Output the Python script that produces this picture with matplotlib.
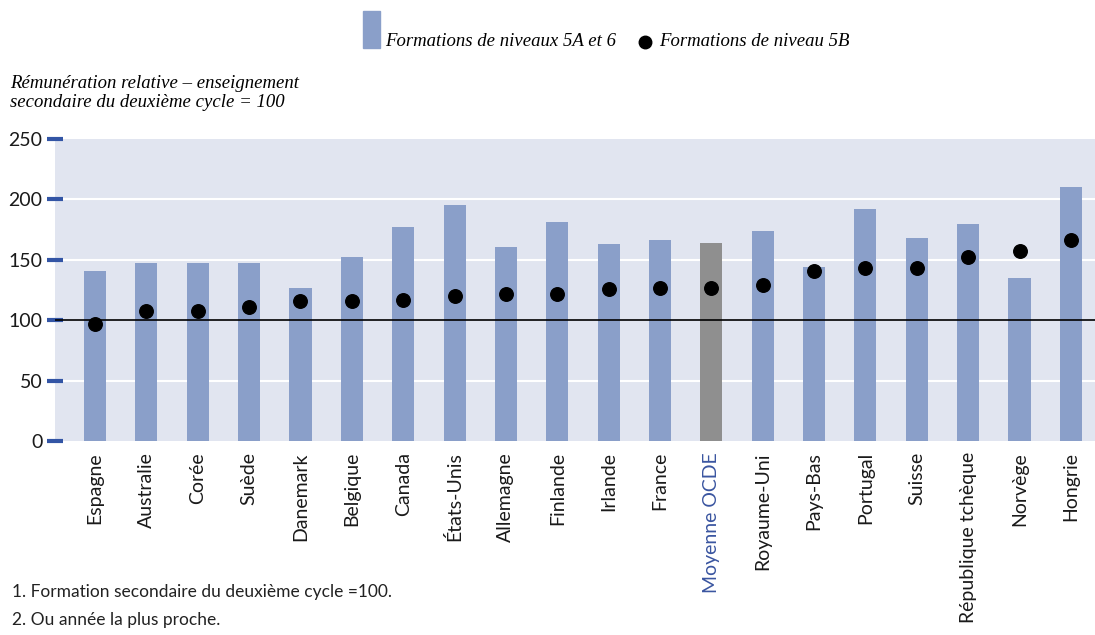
import matplotlib.pyplot as plt
import numpy as np

countries = ["Espagne", "Australie", "Corée", "Suède", "Danemark", "Belgique",
             "Canada", "États-Unis", "Allemagne", "Finlande", "Irlande", "France",
             "Moyenne OCDE", "Royaume-Uni", "Pays-Bas", "Portugal", "Suisse",
             "République tchèque", "Norvège", "Hongrie"]
niveaux_5a_6 = [141, 147, 147, 147, 127, 152, 177, 195, 161, 181, 163, 166,
                164, 174, 144, 192, 168, 180, 135, 210]
niveau_5b = [97, 108, 108, 111, 116, 116, 117, 120, 122, 122, 126, 127,
             127, 129, 141, 143, 143, 152, 157, 166]
yticks = [0, 50, 100, 150, 200, 250]

bar_color = "#8a9fc9"
oecd_color = "#8f8f8f"
bg_color = "#e1e5f0"
tick_blue = "#3355a5"
text_color = "#1a1a1a"

plt.rcParams['font.family'] = ['Lato', 'DejaVu Sans']
hand = dict(family='Liberation Serif', style='italic')

fig = plt.figure(figsize=(10.95, 6.35), dpi=100)
ax = fig.add_axes([0.0502, 0.3055, 0.9498, 0.4756])
ax.set_facecolor(bg_color)

x = np.arange(len(countries))
colors = [oecd_color if c == "Moyenne OCDE" else bar_color for c in countries]
ax.bar(x, niveaux_5a_6, width=0.43, color=colors, zorder=2)
ax.scatter(x, niveau_5b, s=95, color="black", zorder=4)

# grille blanche + ligne de reference a 100
for y in [50, 150, 200]:
    ax.axhline(y, color="white", lw=1.5, zorder=1)
ax.axhline(100, color="black", lw=1.2, zorder=3)

ax.set_xlim(-0.78, 19.47)
ax.set_ylim(0, 250)
ax.set_yticks(yticks)
ax.tick_params(axis='y', direction='inout', length=12, width=3, color=tick_blue,
               labelsize=14, pad=3, labelcolor=text_color)
ax.tick_params(axis='x', length=0, labelsize=14, pad=8, labelcolor=text_color)
ax.set_xticks(x)
ax.set_xticklabels(countries, rotation=90, va='top')
for lbl in ax.get_xticklabels():
    if lbl.get_text() == "Moyenne OCDE":
        lbl.set_color("#3a55a0")
for s in ax.spines.values():
    s.set_visible(False)

# legende
fig.patches.append(plt.Rectangle((363 / 1095, 1 - 48 / 635), 17 / 1095, 37 / 635,
                                 transform=fig.transFigure, color=bar_color))
fig.text(385 / 1095, 1 - 41 / 635, "Formations de niveaux 5A et 6", fontsize=13.5,
         va='center', **hand)
fig.lines.append(plt.Line2D([645 / 1095], [1 - 42 / 635], marker='o', ms=9,
                            color='black', transform=fig.transFigure))
fig.text(659 / 1095, 1 - 41 / 635, "Formations de niveau 5B", fontsize=13.5,
         va='center', **hand)

fig.text(10 / 1095, 1 - 93 / 635,
         "Rémunération relative – enseignement\nsecondaire du deuxième cycle = 100",
         fontsize=13.5, va='center', linespacing=1.15, **hand)

fig.text(12 / 1095, 1 - 592 / 635, "1. Formation secondaire du deuxième cycle =100.",
         fontsize=12.5, va='center', color="#222222")
fig.text(12 / 1095, 1 - 620 / 635, "2. Ou année la plus proche.",
         fontsize=12.5, va='center', color="#222222")

fig.savefig("out.png", dpi=100)
